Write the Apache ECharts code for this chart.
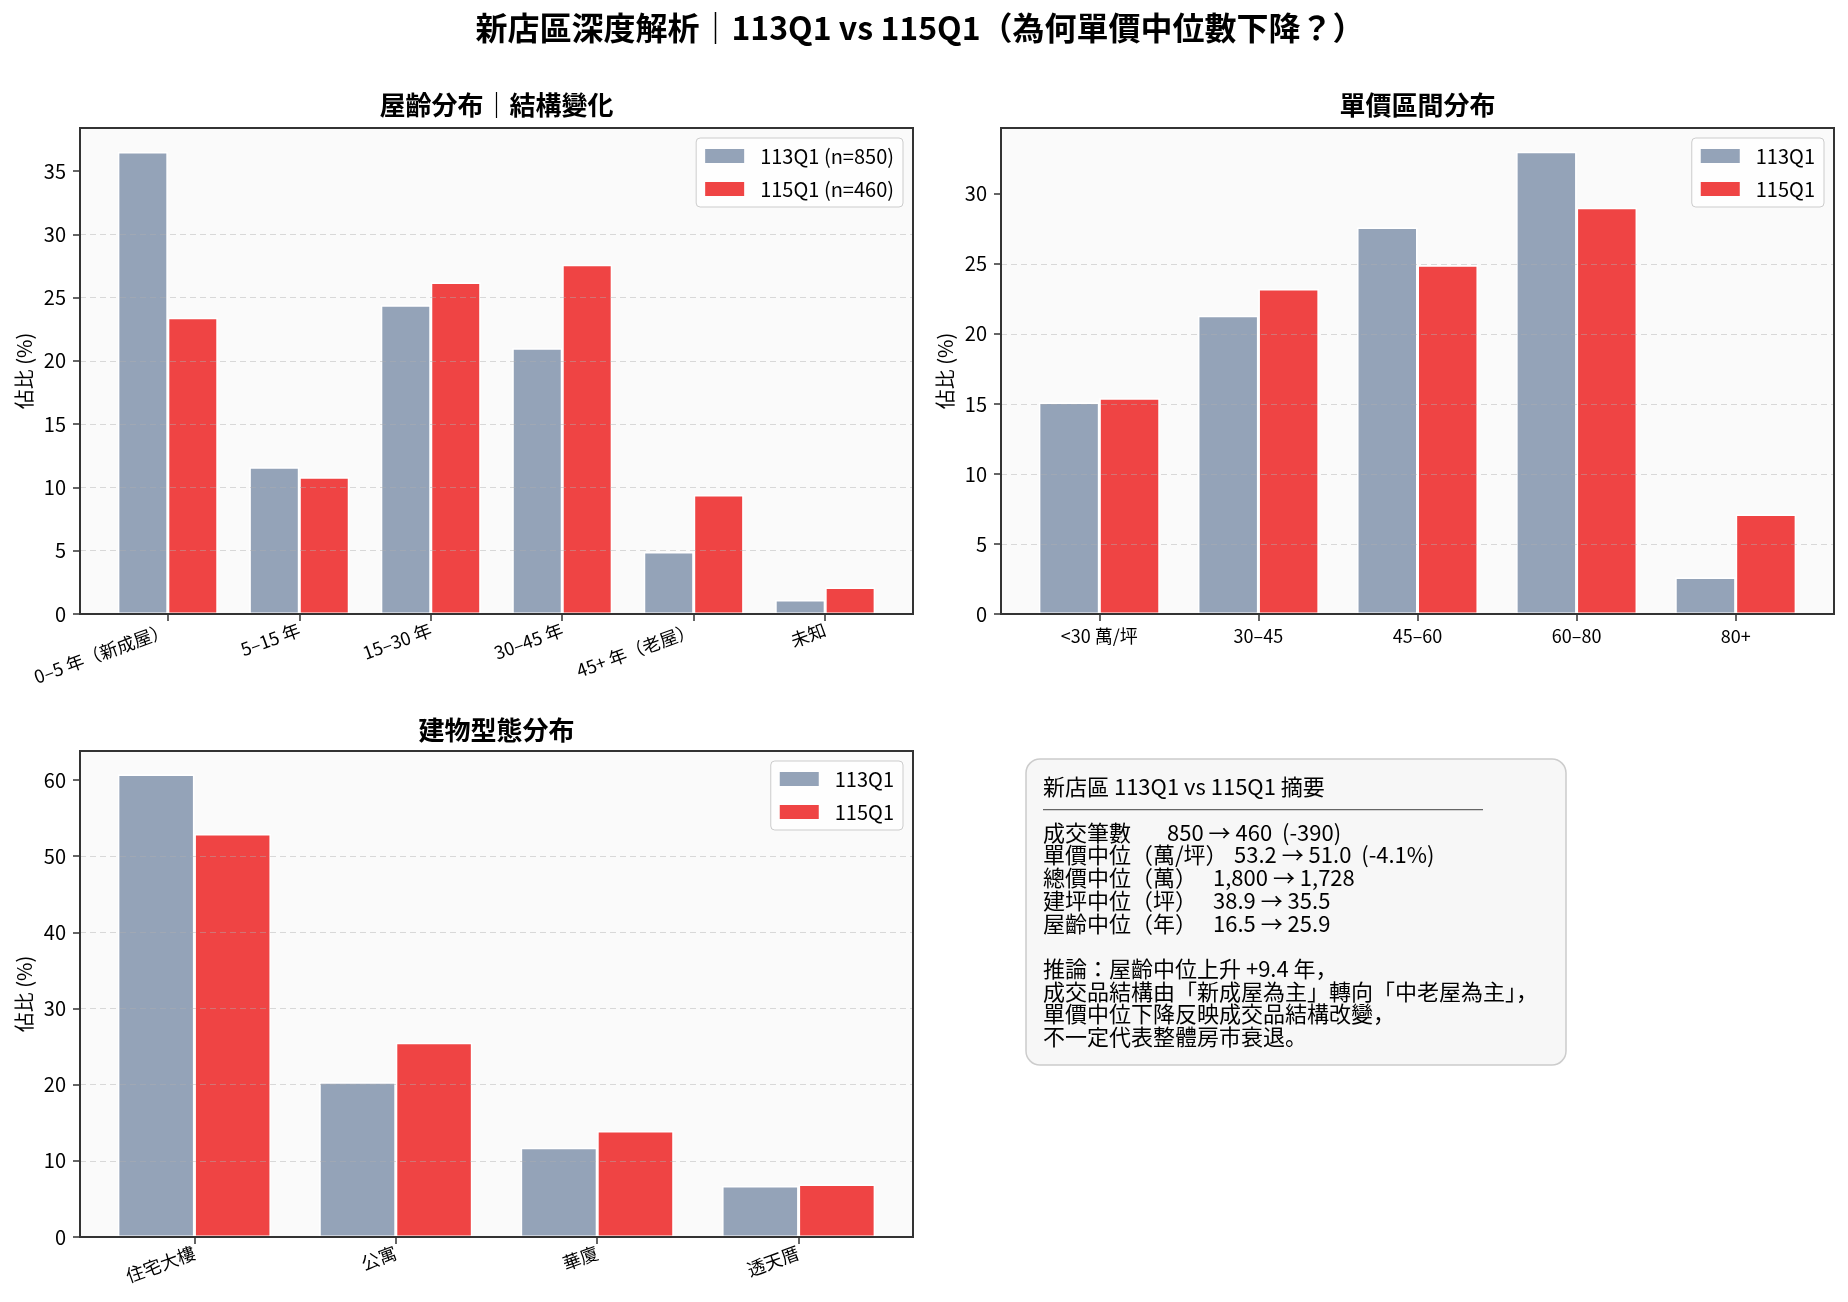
<!DOCTYPE html>
<html><head><meta charset="utf-8">
<script src="https://cdn.jsdelivr.net/npm/echarts@6/dist/echarts.min.js"></script>
<style>html,body{margin:0;padding:0;background:#fff}#c{width:1848px;height:1302px}</style>
</head><body><div id="c"></div>
<script>
// ---------- data ----------
const ageCats = ['0–5 年（新成屋）', '5–15 年', '15–30 年', '30–45 年', '45+ 年（老屋）', '未知'];
const age113 = [36.5, 11.6, 24.4, 21.0, 4.9, 1.1];
const age115 = [23.4, 10.8, 26.2, 27.6, 9.4, 2.1];
const ageTicks = [0, 5, 10, 15, 20, 25, 30, 35];
const ageNames = ['113Q1 (n=850)', '115Q1 (n=460)'];

const priceCats = ['<30 萬/坪', '30–45', '45–60', '60–80', '80+'];
const price113 = [15.1, 21.3, 27.6, 33.0, 2.6];
const price115 = [15.4, 23.2, 24.9, 29.0, 7.1];
const priceTicks = [0, 5, 10, 15, 20, 25, 30];

const typeCats = ['住宅大樓', '公寓', '華廈', '透天厝'];
const type113 = [60.7, 20.3, 11.7, 6.7];
const type115 = [52.9, 25.5, 13.9, 6.9];
const typeTicks = [0, 10, 20, 30, 40, 50, 60];

const seriesNames = ['113Q1', '115Q1'];

const mainTitle = '新店區深度解析｜113Q1 vs 115Q1（為何單價中位數下降？）';
const panelTitles = ['屋齡分布｜結構變化', '單價區間分布', '建物型態分布'];
const yName = '佔比 (%)';

const summaryTitle = '新店區 113Q1 vs 115Q1 摘要';
const summaryLabels = ['成交筆數', '單價中位（萬/坪）', '總價中位（萬）', '建坪中位（坪）', '屋齡中位（年）'];
const summaryValues = ['850 → 460  (-390)', '53.2 → 51.0  (-4.1%)', '1,800 → 1,728', '38.9 → 35.5', '16.5 → 25.9'];
const summaryNotes = ['推論：屋齡中位上升 +9.4 年，', '成交品結構由「新成屋為主」轉向「中老屋為主」，', '單價中位下降反映成交品結構改變，', '不一定代表整體房市衰退。'];

// ---------- layout ----------
const FONT = '"Noto Sans CJK JP","Noto Sans CJK TC","Noto Sans",sans-serif';
const GREY = '#94a3b8', RED = '#ef4444';
const panels = [
  {x0: 80, x1: 913, y0: 128, y1: 614, cats: ageCats, a: age113, b: age115, yMax: 38.4, step: 5, ticks: ageTicks, rotate: 20, names: ageNames, title: panelTitles[0], titleY: 105, ylx: 24},
  {x0: 1001, x1: 1834, y0: 128, y1: 614, cats: priceCats, a: price113, b: price115, yMax: 34.7, step: 5, ticks: priceTicks, rotate: 0, names: seriesNames, title: panelTitles[1], titleY: 105, ylx: 945},
  {x0: 80, x1: 913, y0: 751, y1: 1237, cats: typeCats, a: type113, b: type115, yMax: 63.8, step: 10, ticks: typeTicks, rotate: 20, names: seriesNames, title: panelTitles[2], titleY: 730, ylx: 24}
];

const option = {
  animation: false,
  backgroundColor: '#ffffff',
  textStyle: {fontFamily: FONT},
  grid: [], xAxis: [], yAxis: [], series: [], legend: [], graphic: []
};

panels.forEach((p, i) => {
  const n = p.cats.length, W = p.x1 - p.x0, H = p.y1 - p.y0;
  const span = 1.1 * (n - 0.24);
  const B = W / span;
  const inset = (0.38 + 0.05 * (n - 0.24) - 0.5) * B;
  const gA = 2 * i, gB = 2 * i + 1;
  option.grid.push({left: p.x0, top: p.y0, width: W, height: H, show: true, backgroundColor: '#fafafa', borderWidth: 0, containLabel: false, outerBoundsMode: 'none'});
  option.grid.push({left: p.x0 + inset, top: p.y0, width: n * B, height: H, show: false, containLabel: false, outerBoundsMode: 'none'});
  option.xAxis.push({type: 'value', gridIndex: gA, min: 0, max: 1, show: false});
  option.xAxis.push({
    type: 'category', gridIndex: gB, data: p.cats, boundaryGap: true,
    axisLine: {show: false},
    axisTick: {show: true, alignWithLabel: true, inside: false, length: 7, lineStyle: {color: '#333', width: 1.5}},
    axisLabel: {fontSize: 18, color: '#000', margin: p.rotate ? 15 : 13, rotate: p.rotate, interval: 0, fontFamily: FONT},
    splitLine: {show: false}
  });
  option.yAxis.push({
    type: 'value', gridIndex: gA, min: 0, max: p.yMax, interval: p.step, z: 3,
    axisLine: {show: false},
    axisTick: {show: true, inside: false, length: 7, lineStyle: {color: '#333', width: 1.5}, customValues: p.ticks},
    axisLabel: {customValues: p.ticks, fontSize: 20, color: '#000', margin: 14, fontFamily: FONT},
    splitLine: {show: true, showMinLine: false, showMaxLine: false, lineStyle: {color: 'rgba(175,175,175,0.45)', type: [6, 4], width: 1.2}}
  });
  option.yAxis.push({type: 'value', gridIndex: gB, min: 0, max: p.yMax, show: false, splitLine: {show: false}});
  option.series.push({type: 'bar', name: p.names[0], xAxisIndex: gB, yAxisIndex: gB, data: p.a, barWidth: '38%', barGap: '0%', itemStyle: {color: GREY, borderColor: '#fff', borderWidth: 1.5}});
  option.series.push({type: 'bar', name: p.names[1], xAxisIndex: gB, yAxisIndex: gB, data: p.b, barWidth: '38%', barGap: '0%', itemStyle: {color: RED, borderColor: '#fff', borderWidth: 1.5}});
  option.legend.push({
    data: p.names, orient: 'vertical', right: 1848 - (p.x1 - 10), top: p.y0 + 10,
    icon: 'rect', itemWidth: 39, itemHeight: 14, itemGap: 13,
    padding: [8, 9, 8, 9],
    backgroundColor: 'rgba(255,255,255,0.8)', borderColor: '#cccccc', borderWidth: 1, borderRadius: 4,
    itemStyle: {borderWidth: 0},
    textStyle: {fontSize: 20, color: '#000', lineHeight: 20, fontFamily: FONT, padding: [0, 0, 0, 11]}
  });
  // frame
  option.graphic.push({type: 'rect', z: 100, silent: true, shape: {x: p.x0, y: p.y0, width: W, height: H}, style: {fill: 'none', stroke: '#333', lineWidth: 2}});
  // subplot title
  option.graphic.push({type: 'text', z: 100, x: (p.x0 + p.x1) / 2, y: p.titleY, style: {text: p.title, fill: '#000', align: 'center', verticalAlign: 'middle', font: 'bold 26px ' + FONT}});
  // y label
  option.graphic.push({type: 'text', z: 100, x: p.ylx, y: (p.y0 + p.y1) / 2, rotation: Math.PI / 2, style: {text: yName, fill: '#000', align: 'center', verticalAlign: 'middle', font: '20px ' + FONT}});
});

// main title
option.graphic.push({type: 'text', z: 100, x: 920, y: 28, style: {text: mainTitle, fill: '#000', align: 'center', verticalAlign: 'middle', font: 'bold 32px ' + FONT}});

// summary box
const bx = 1026, by = 759, bw = 540, bh = 306;
const tx = 1043, ly0 = 787, lh = 22.7;
option.graphic.push({type: 'rect', z: 90, shape: {x: bx, y: by, width: bw, height: bh, r: 14}, style: {fill: '#f7f7f7', stroke: '#cccccc', lineWidth: 1.5}});
option.graphic.push({type: 'text', z: 100, x: tx, y: ly0, style: {text: summaryTitle, fill: '#000', align: 'left', verticalAlign: 'middle', font: '22px ' + FONT}});
option.graphic.push({type: 'line', z: 100, shape: {x1: tx, y1: ly0 + lh, x2: 1483, y2: ly0 + lh}, style: {stroke: '#666', lineWidth: 1.2}});
const valueX = [1167, 1234, 1213, 1213, 1213];
summaryLabels.forEach((t, k) => {
  const y = ly0 + lh * (k + 2);
  option.graphic.push({type: 'text', z: 100, x: tx, y: y, style: {text: t, fill: '#000', align: 'left', verticalAlign: 'middle', font: '22px ' + FONT}});
  option.graphic.push({type: 'text', z: 100, x: valueX[k], y: y, style: {text: summaryValues[k], fill: '#000', align: 'left', verticalAlign: 'middle', font: '22px ' + FONT}});
});
summaryNotes.forEach((t, k) => {
  const y = ly0 + lh * (k + 8);
  option.graphic.push({type: 'text', z: 100, x: tx, y: y, style: {text: t, fill: '#000', align: 'left', verticalAlign: 'middle', font: '22px ' + FONT}});
});

const chart = echarts.init(document.getElementById('c'), null, {renderer: 'canvas', width: 1848, height: 1302});
chart.setOption(option);
</script>
</body></html>
